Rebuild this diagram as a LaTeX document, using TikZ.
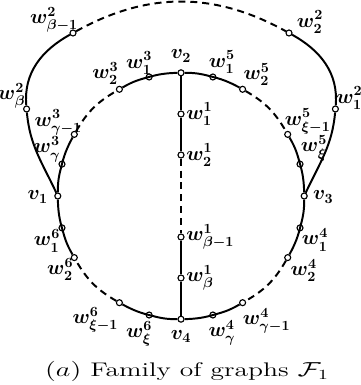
\documentclass[tikz,border=0pt]{standalone}
\usepackage{amsmath}
\begin{document}
\begin{tikzpicture}[
    vtx/.style={circle, draw, fill=white, inner sep=0pt, minimum size=1.5mm, line width=0.8pt},
    edge/.style={line width=1.4pt},
    gap/.style={line width=1.4pt, dash pattern=on 5pt off 3.5pt},
    lbl/.style={font=\fontsize{14.4}{17}\selectfont\boldmath, inner sep=1pt}
]
\useasboundingbox (-4.525,-4.725) rectangle (4.475,4.9);
\def\R{3.08}

% Main vertices
\node[vtx] (v1) at (180:\R) {};
\node[vtx] (v2) at (90:\R)  {};
\node[vtx] (v3) at (0:\R)   {};
\node[vtx] (v4) at (-90:\R) {};

% Path v1 - v2
\node[vtx] (w3g)  at (165:\R) {};
\node[vtx] (w3g1) at (150:\R) {};
\node[vtx] (w32)  at (120:\R) {};
\node[vtx] (w31)  at (105:\R) {};

% Path v2 - v3
\node[vtx] (w51)  at (75:\R) {};
\node[vtx] (w52)  at (60:\R) {};
\node[vtx] (w5x1) at (30:\R) {};
\node[vtx] (w5x)  at (15:\R) {};

% Path v3 - v4
\node[vtx] (w41)  at (-15:\R) {};
\node[vtx] (w42)  at (-30:\R) {};
\node[vtx] (w4g1) at (-60:\R) {};
\node[vtx] (w4g)  at (-75:\R) {};

% Path v4 - v1
\node[vtx] (w6x)  at (-105:\R) {};
\node[vtx] (w6x1) at (-120:\R) {};
\node[vtx] (w62)  at (-150:\R) {};
\node[vtx] (w61)  at (-165:\R) {};

% Chord v2 - v4
\node[vtx] (w11)  at (0, 2.05)  {};
\node[vtx] (w12)  at (0, 1.025) {};
\node[vtx] (w1b1) at (0,-1.025) {};
\node[vtx] (w1b)  at (0,-2.05)  {};

% Outer path v1 - v3
\node[vtx] (w2b)  at (-3.86, 2.175) {};
\node[vtx] (w2b1) at (-2.7, 4.075)  {};
\node[vtx] (w22)  at (2.7, 4.075)   {};
\node[vtx] (w21)  at (3.86, 2.175)  {};

% Edges on the cycle
\draw[edge] (v1) to[bend left=7.5] (w3g) to[bend left=7.5] (w3g1);
\draw[gap]  (w3g1) to[bend left=15] (w32);
\draw[edge] (w32) to[bend left=7.5] (w31) to[bend left=7.5] (v2);
\draw[edge] (v2) to[bend left=7.5] (w51) to[bend left=7.5] (w52);
\draw[gap]  (w52) to[bend left=15] (w5x1);
\draw[edge] (w5x1) to[bend left=7.5] (w5x) to[bend left=7.5] (v3);
\draw[edge] (v3) to[bend left=7.5] (w41) to[bend left=7.5] (w42);
\draw[gap]  (w42) to[bend left=15] (w4g1);
\draw[edge] (w4g1) to[bend left=7.5] (w4g) to[bend left=7.5] (v4);
\draw[edge] (v4) to[bend left=7.5] (w6x) to[bend left=7.5] (w6x1);
\draw[gap]  (w6x1) to[bend left=15] (w62);
\draw[edge] (w62) to[bend left=7.5] (w61) to[bend left=7.5] (v1);

% Chord
\draw[edge] (v2) -- (w11) -- (w12);
\draw[gap]  (w12) -- (w1b1);
\draw[edge] (w1b1) -- (w1b) -- (v4);

% Outer path
\draw[edge] (v1) to[out=115, in=-85] (w2b) to[out=95, in=209] (w2b1);
\draw[gap]  (w2b1) to[out=29, in=151] (w22);
\draw[edge] (w22) to[out=-29, in=85] (w21) to[out=-95, in=65] (v3);

% Labels
\node[lbl] (l-v1) at ([shift={(-0.5,-0.025)}]v1) {$v_1$};
\node[lbl] (l-v2) at ([shift={(0,0.42)}]v2)      {$v_2$};
\node[lbl] (l-v3) at ([shift={(0.475,-0.025)}]v3) {$v_3$};
\node[lbl] (l-v4) at ([shift={(0,-0.43)}]v4)     {$v_4$};

\node[lbl] (l-w31)  at ([shift={(-0.25,0.35)}]w31)   {$w^3_1$};
\node[lbl] (l-w32)  at ([shift={(-0.35,0.4)}]w32)    {$w^3_2$};
\node[lbl] (l-w3g1) at ([shift={(-0.4,0.3)}]w3g1)    {$w^3_{\gamma-1}$};
\node[lbl] (l-w3g)  at ([shift={(-0.375,0.375)}]w3g) {$w^3_{\gamma}$};

\node[lbl] (l-w51)  at ([shift={(0.225,0.375)}]w51) {$w^5_1$};
\node[lbl] (l-w52)  at ([shift={(0.35,0.375)}]w52)  {$w^5_2$};
\node[lbl] (l-w5x1) at ([shift={(0.5,0.325)}]w5x1)  {$w^5_{\xi-1}$};
\node[lbl] (l-w5x)  at ([shift={(0.35,0.4)}]w5x)    {$w^5_{\xi}$};

\node[lbl] (l-w41)  at ([shift={(0.375,-0.3)}]w41)  {$w^4_1$};
\node[lbl] (l-w42)  at ([shift={(0.4,-0.325)}]w42)  {$w^4_2$};
\node[lbl] (l-w4g1) at ([shift={(0.6,-0.45)}]w4g1)  {$w^4_{\gamma-1}$};
\node[lbl] (l-w4g)  at ([shift={(0.225,-0.45)}]w4g) {$w^4_{\gamma}$};

\node[lbl] (l-w6x)  at ([shift={(-0.25,-0.475)}]w6x) {$w^6_{\xi}$};
\node[lbl] (l-w6x1) at ([shift={(-0.6,-0.425)}]w6x1) {$w^6_{\xi-1}$};
\node[lbl] (l-w62)  at ([shift={(-0.35,-0.3)}]w62)   {$w^6_2$};
\node[lbl] (l-w61)  at ([shift={(-0.375,-0.325)}]w61) {$w^6_1$};

\node[lbl, anchor=west] (l-w11)  at (w11.east)  {$w^1_1$};
\node[lbl, anchor=west] (l-w12)  at (w12.east)  {$w^1_2$};
\node[lbl, anchor=west] (l-w1b1) at (w1b1.east) {$w^1_{\beta-1}$};
\node[lbl, anchor=west] (l-w1b)  at (w1b.east)  {$w^1_{\beta}$};

\node[lbl] (l-w2b)  at ([shift={(-0.375,0.325)}]w2b)  {$w^2_{\beta}$};
\node[lbl] (l-w2b1) at ([shift={(-0.475,0.325)}]w2b1) {$w^2_{\beta-1}$};
\node[lbl] (l-w22)  at ([shift={(0.525,0.275)}]w22)   {$w^2_2$};
\node[lbl] (l-w21)  at ([shift={(0.35,0.275)}]w21)    {$w^2_1$};

% Caption
\node[font=\fontsize{14}{16}\selectfont] (cap) at (0.15,-4.375)
    {\scalebox{1.4}[1]{$(a)$ Family of graphs $\mathcal{F}_1$}};
\end{tikzpicture}
\end{document}
